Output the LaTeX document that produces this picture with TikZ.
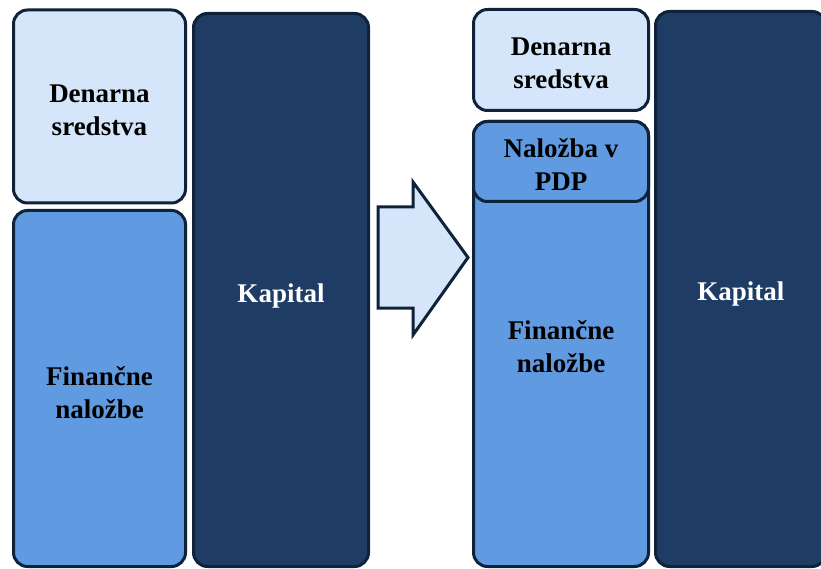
\documentclass[tikz,border=0pt]{standalone}
\usepackage{fontspec}
\setmainfont{Liberation Serif}
\definecolor{cashblue}{RGB}{214,230,250}
\definecolor{investblue}{RGB}{96,154,224}
\definecolor{capitalblue}{RGB}{30,60,100}
\definecolor{rimblue}{RGB}{14,34,58}
\tikzset{
  block/.style={draw=rimblue, line width=3pt, rounded corners=14pt, inner sep=0pt},
  cash/.style={block, fill=cashblue},
  invest/.style={block, fill=investblue},
  capital/.style={block, fill=capitalblue},
  tag/.style={align=center, inner sep=0pt, text=black,
    font=\fontsize{27}{33}\selectfont\bfseries},
  turn/.style={draw=rimblue, line width=3pt, fill=cashblue, line join=miter},
}

\begin{document}
\begin{tikzpicture}[x=1pt, y=-1pt]
    \useasboundingbox (0,0) rectangle (821,569);
    \clip (0,0) rectangle (821,569);
    % before
    \node[cash, minimum width=172pt, minimum height=193pt] (cashL) at (99.5,106.5) {};
    \node[invest, minimum width=172pt, minimum height=356pt] (investL) at (99.5,388.5) {};
    \node[capital, minimum width=175pt, minimum height=553pt] (capitalL) at (281,290) {};
    \node[tag] (cashLtext) at ([yshift=-4pt]cashL.center) {Denarna\\sredstva};
    \node[tag] (investLtext) at ([yshift=-4pt]investL.center) {Finančne\\naložbe};
    \node[tag, text=white] (capitalLtext) at ([yshift=-6pt]capitalL.center) {Kapital};
    % arrow
    \draw[turn] (378,207) -- (413,207) -- (413,182) -- (468,257.5) -- (413,335) -- (413,308) -- (378,308) -- cycle;
    % after
    \node[cash, minimum width=175pt, minimum height=101pt] (cashR) at (561,60) {};
    \node[invest, minimum width=175pt, minimum height=445pt] (investR) at (561,344) {};
    \node[invest, minimum width=175pt, minimum height=80pt] (pdpR) at (561,161.5) {};
    \node[capital, minimum width=170.5pt, minimum height=555pt] (capitalR) at (740.75,289) {};
    \node[tag] (cashRtext) at ([yshift=-3pt]cashR.center) {Denarna\\sredstva};
    \node[tag] (investRtext) at ([yshift=-3pt]investR.center) {Finančne\\naložbe};
    \node[tag] (pdpRtext) at ([yshift=-3pt]pdpR.center) {Naložba v\\PDP};
    \node[tag, text=white] (capitalRtext) at ([yshift=-5pt]capitalR.center) {Kapital};
\end{tikzpicture}
\end{document}
